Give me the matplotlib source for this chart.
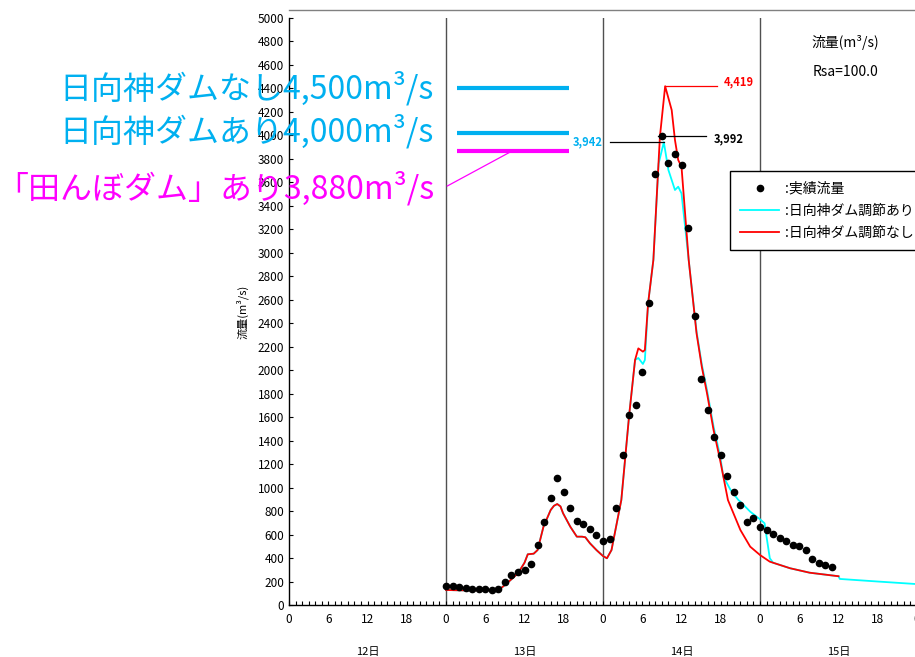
import numpy as np
import matplotlib.pyplot as plt

plt.rcParams['font.family'] = ['Noto Sans CJK JP', 'DejaVu Sans']

W, H = 915, 657

# hours counted from 12日 0時
obs_hour = np.arange(24, 84)
obs_flow = [164, 162, 151, 145, 139, 136, 134, 130, 139, 196,
            253, 281, 298, 346, 514, 704, 909, 1079, 960, 823,
            718, 690, 650, 596, 548, 560, 829, 1278, 1618, 1700,
            1987, 2572, 3670, 3992, 3762, 3842, 3750, 3210, 2460, 1922,
            1661, 1430, 1278, 1098, 961, 850, 707, 741, 667, 639,
            607, 571, 548, 514, 500, 471, 394, 355, 343, 321]

# 日向神ダム調節なし
nodam_hour = [24, 26, 28, 30, 32, 33, 34, 35, 36, 36.5, 37.4, 38, 38.9, 40, 40.5, 41, 41.5, 41.9,
              43, 44, 44.8, 45.3, 46, 47, 48, 48.6, 49.3, 50, 50.8, 52, 52.9, 53.4, 54.1, 54.4,
              54.9, 55.7, 56.7, 57.5, 58.5, 59, 59.5, 60, 61.1, 62.3, 63.1, 63.9, 64.9, 65.9,
              67.1, 69, 70.5, 72, 73.5, 76.6, 79.6, 83.7, 84]
nodam_flow = [128, 125, 124, 124, 126, 170, 219, 270, 360, 432, 437, 468, 667, 809, 845, 860, 840, 781,
              667, 582, 582, 577, 526, 468, 417, 398, 468, 667, 894, 1618, 2087, 2186, 2158, 2172,
              2572, 2939, 3989, 4419, 4216, 3961, 3790, 3733, 2939, 2314, 2030, 1803, 1491, 1235,
              894, 639, 497, 426, 369, 313, 275, 247, 245]

# 日向神ダム調節あり
dam_hour = [24, 26, 28, 30, 32, 33, 34, 35, 36, 36.5, 37.4, 38, 38.9, 40, 40.5, 41, 41.5, 41.9,
            43, 44, 44.8, 45.3, 46, 47, 48, 48.6, 49.3, 50, 50.8, 52, 52.9, 53.4, 54.1, 54.4,
            54.9, 55.7, 56.5, 57.3, 58.0, 59.0, 59.5, 60.0, 61.1, 62.3, 63.1, 63.9, 64.9, 65.9,
            66.4, 67.5, 68.7, 69, 70.5, 72, 72.7, 73, 73.5, 74, 76.6, 79.6, 83.7, 84, 84.2, 90, 96]
dam_flow = [128, 125, 124, 124, 126, 170, 219, 270, 360, 432, 437, 468, 667, 809, 845, 860, 840, 781,
            667, 582, 582, 577, 526, 468, 417, 398, 468, 667, 894, 1618, 2087, 2104, 2053, 2087,
            2572, 2939, 3760, 3942, 3705, 3535, 3563, 3506, 2939, 2330, 2050, 1830, 1520, 1270,
            1093, 980, 894, 880, 795, 730, 696, 582, 398, 360, 313, 275, 247, 245, 222, 200, 178]

day_labels = ['12日', '13日', '14日', '15日']
hour_labels = ['0', '6', '12', '18']

peak_nodam = 4419
peak_obs = 3992
peak_dam = 3942

big_texts = ['日向神ダムなし4,500m³/s', '日向神ダムあり4,000m³/s', '「田んぼダム」あり3,880m³/s']
big_levels = [4400, 4020, 3870]

CYAN = '#00FFFF'
BLUE = '#00B0F0'
MAG = '#FF00FF'


def px(x, y):
    return x / W, 1 - y / H


fig = plt.figure(figsize=(W / 100, H / 100), dpi=100)
ax = fig.add_axes([289 / W, 1 - 605 / H, 628 / W, 587 / H])

ax.plot(dam_hour, dam_flow, color=CYAN, lw=1.3, label=':日向神ダム調節あり', zorder=3)
ax.plot(nodam_hour, nodam_flow, color='red', lw=1.3, label=':日向神ダム調節なし', zorder=4)
ax.plot(obs_hour, obs_flow, ls='none', marker='o', ms=4.5, color='k', label=':実績流量', zorder=5)

for d in [24, 48, 72]:
    ax.axvline(d, color='#505050', lw=1.0, zorder=1)

ax.set_xlim(0, 96)
ax.set_ylim(0, 5000)
ax.set_yticks(np.arange(0, 5001, 200))
ax.set_xticks(np.arange(0, 97, 6))
ax.set_xticklabels(hour_labels * 4 + ['0'])
ax.set_xticks(np.arange(0, 97, 1), minor=True)
ax.tick_params(axis='both', which='both', direction='in', labelsize=8.5, length=3, width=0.8)
ax.tick_params(axis='x', pad=6)
for s in ['top', 'right']:
    ax.spines[s].set_visible(False)
for s in ['left', 'bottom']:
    ax.spines[s].set_linewidth(1.0)

ax.set_ylabel('流量(m³/s)', fontsize=8)
ax.yaxis.set_label_coords(-40 / 628, 0.5)

for i, lab in enumerate(day_labels):
    ax.text(12 + 24 * i, -47 / 587, lab, transform=ax.get_xaxis_transform(),
            ha='center', va='center', fontsize=8)

# peak annotations
ax.plot([57.5, 65.5], [peak_nodam, peak_nodam], color='red', lw=0.9, zorder=4)
ax.text(66.4, peak_nodam + 40, f'{peak_nodam:,}', color='red', fontsize=8,
        fontweight='bold', ha='left', va='center')
ax.plot([56.4, 63.7], [peak_obs, peak_obs], color='k', lw=0.9, zorder=4)
ax.text(65.0, peak_obs - 25, f'{peak_obs:,}', color='k', fontsize=8,
        fontweight='bold', ha='left', va='center')
ax.plot([49.0, 57.3], [peak_dam, peak_dam], color='k', lw=0.9, zorder=4)
ax.text(48.0, peak_dam, f'{peak_dam:,}', color=BLUE, fontsize=8,
        fontweight='bold', ha='right', va='center')

# dam capacity bars
for lev, col in zip(big_levels, [BLUE, BLUE, MAG]):
    ax.plot([25.7, 42.8], [lev, lev], color=col, lw=3, solid_capstyle='butt', zorder=6)
ax.plot([24.2, 34.1], [3569, 3867], color=MAG, lw=0.9, zorder=6)

# legend: observed first
h, l = ax.get_legend_handles_labels()
order = [2, 0, 1]
leg = ax.legend([h[i] for i in order], [l[i] for i in order],
                loc='upper left', bbox_to_anchor=px(730, 171), bbox_transform=fig.transFigure,
                borderaxespad=0, fancybox=False, edgecolor='k', framealpha=1, fontsize=10,
                handlelength=2.8, borderpad=0.75, labelspacing=0.6, handletextpad=0.4)
leg.get_frame().set_linewidth(1.0)

fig.text(*px(845, 43), '流量(m³/s)', fontsize=10, ha='center', va='center')
fig.text(*px(845, 72), 'Rsa=100.0', fontsize=10, ha='center', va='center')

for txt, y, col in zip(big_texts, [88, 131, 188], [BLUE, BLUE, MAG]):
    fig.text(*px(434, y), txt, fontsize=23, color=col, ha='right', va='center', zorder=10)

fig.add_artist(plt.Line2D([289 / W, 1], [1 - 10 / H, 1 - 10 / H], color='#808080', lw=1.0))

fig.savefig('out.png', dpi=100)
